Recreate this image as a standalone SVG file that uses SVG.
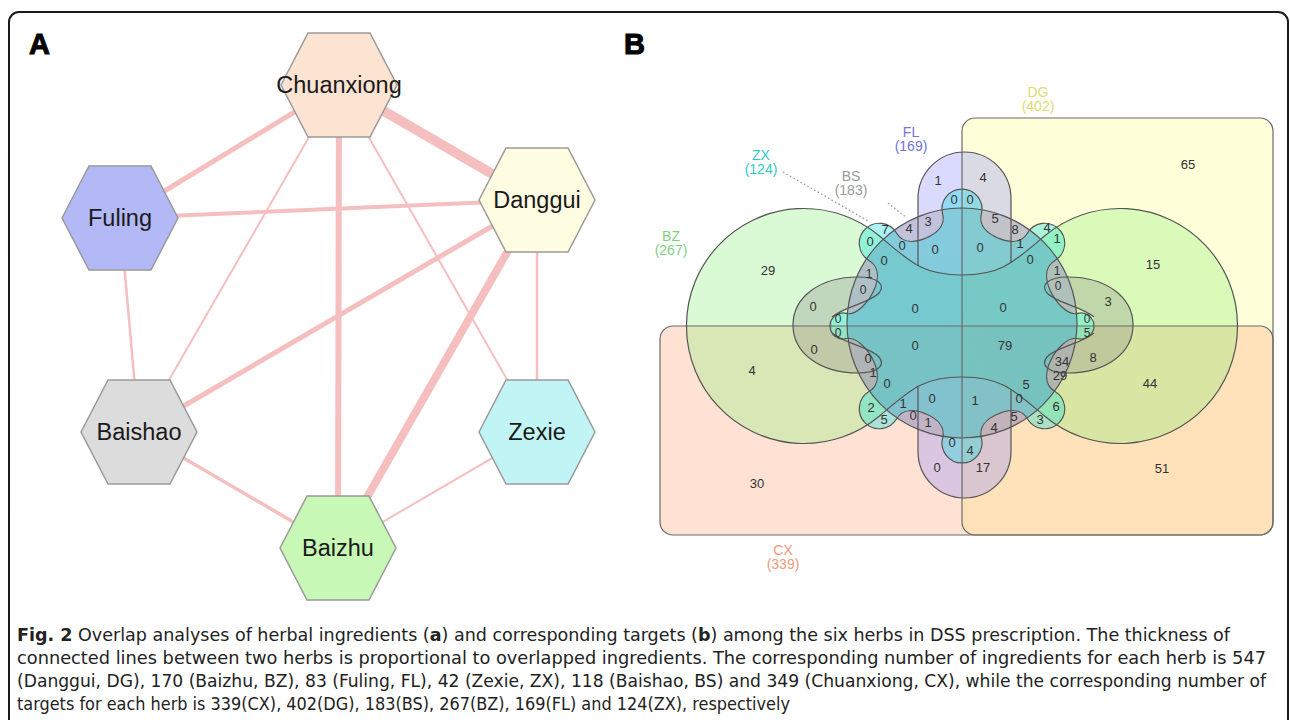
<svg xmlns="http://www.w3.org/2000/svg" xmlns:xlink="http://www.w3.org/1999/xlink" width="1290" height="720" viewBox="0 0 1290 720">
<defs>
<style>
.hex{stroke:#9a9a9a;stroke-width:1.5}
.hl{font-family:"Liberation Sans",Arial,sans-serif;font-size:23.5px;fill:#1a1a1a;text-anchor:middle;dominant-baseline:central}
.e{stroke:#f5bfbf;fill:none;stroke-linecap:butt}
.ol{fill:none;stroke:#555;stroke-width:1.2}
.n{font-family:"Liberation Sans",Arial,sans-serif;font-size:13px;fill:#333;text-anchor:middle;dominant-baseline:central}
.ns{font-family:"Liberation Sans",Arial,sans-serif;font-size:12px;fill:#333;text-anchor:middle;dominant-baseline:central}
.sl{font-family:"Liberation Sans",Arial,sans-serif;font-size:14px;text-anchor:middle}
.cap{font-family:"Liberation Sans Narrow","DejaVu Sans Condensed","Liberation Sans",sans-serif;font-size:18px;fill:#222}
.lead{stroke:#9a9a9a;stroke-width:1.3;stroke-dasharray:1.5 2.5;fill:none}
.big{font-family:"Liberation Sans",Arial,sans-serif;font-size:29px;font-weight:bold;fill:#000;stroke:#000;stroke-width:1}
</style>
<path id="pA" d="M -36.4,-87.8 C -25.3,-92.4 -16.4,-100.5 -19.4,-112.1 A 20 20 0 1 1 19.4,-112.1 C 16.4,-100.5 25.3,-92.4 36.4,-87.8"/>
<path id="pAf" d="M 0,0 L -36.4,-87.8 C -25.3,-92.4 -16.4,-100.5 -19.4,-112.1 A 20 20 0 1 1 19.4,-112.1 C 16.4,-100.5 25.3,-92.4 36.4,-87.8 Z"/>
<path id="pB" d="M -36.4,-87.8 C -23.5,-93.2 -10.1,-106.1 -12.6,-115.8 A 13 13 0 1 1 12.6,-115.8 C 10.1,-106.1 23.5,-93.2 36.4,-87.8"/>
<path id="pBf" d="M 0,0 L -36.4,-87.8 C -23.5,-93.2 -10.1,-106.1 -12.6,-115.8 A 13 13 0 1 1 12.6,-115.8 C 10.1,-106.1 23.5,-93.2 36.4,-87.8 Z"/>
<path id="bulbF" d="M 832,317 C 845,306 870,303 879,293 C 886,285 878,277 858,277 C 820,277 793,297 793,325 C 793,353 820,373 858,373 C 878,373 886,365 879,357 C 870,347 845,344 832,333 Z"/>
<path id="bulbO" d="M 832,317 C 845,306 870,303 879,293 C 886,285 878,277 858,277 C 820,277 793,297 793,325 C 793,353 820,373 858,373 C 878,373 886,365 879,357 C 870,347 845,344 832,333"/>
<path id="bz" d="M 879.5,236 C 910.1,261.7 922,275 962,275 C 1002,275 1013.9,261.7 1044.5,236 A 117.5 117.5 0 1 1 1044.5,416 C 1013.9,390.3 1002,377 962,377 C 922,377 910.1,390.3 879.5,416 A 117.5 117.5 0 1 1 879.5,236 Z"/>
</defs>

<rect x="0" y="0" width="1290" height="720" fill="#ffffff"/>
<rect id="frame" x="9" y="12" width="1279" height="730" rx="10" fill="none" stroke="#1a1a1a" stroke-width="2"/>

<text class="big" x="29" y="54">A</text>
<text class="big" x="624" y="54">B</text>

<!-- Panel A connectors -->
<g id="connectors">
<line class="e" x1="339" y1="85" x2="120" y2="218" stroke-width="5"/>
<line class="e" x1="339" y1="85" x2="537" y2="200" stroke-width="10"/>
<line class="e" x1="339" y1="85" x2="338" y2="548" stroke-width="6"/>
<line class="e" x1="339" y1="85" x2="139" y2="432" stroke-width="2"/>
<line class="e" x1="339" y1="85" x2="537" y2="432" stroke-width="2"/>
<line class="e" x1="120" y1="218" x2="537" y2="200" stroke-width="4"/>
<line class="e" x1="120" y1="218" x2="139" y2="432" stroke-width="2.5"/>
<line class="e" x1="537" y1="200" x2="139" y2="432" stroke-width="5"/>
<line class="e" x1="537" y1="200" x2="338" y2="548" stroke-width="8"/>
<line class="e" x1="537" y1="200" x2="537" y2="432" stroke-width="2.5"/>
<line class="e" x1="139" y1="432" x2="338" y2="548" stroke-width="3.5"/>
<line class="e" x1="537" y1="432" x2="338" y2="548" stroke-width="2"/>
</g>

<g id="node-chuanxiong"><polygon class="hex" fill="#fde3d2" points="281,85 308,33 370,33 397,85 370,137 308,137"/><text class="hl" x="339" y="85">Chuanxiong</text></g>
<g id="node-danggui"><polygon class="hex" fill="#fefde2" points="479,200 506,148 568,148 595,200 568,252 506,252"/><text class="hl" x="537" y="200">Danggui</text></g>
<g id="node-fuling"><polygon class="hex" fill="#b3b8f6" points="62,218 89,166 151,166 178,218 151,270 89,270"/><text class="hl" x="120" y="218">Fuling</text></g>
<g id="node-baishao"><polygon class="hex" fill="#dcdcdc" points="81,432 108,380 170,380 197,432 170,484 108,484"/><text class="hl" x="139" y="432">Baishao</text></g>
<g id="node-zexie"><polygon class="hex" fill="#c1f5f5" points="479,432 506,380 568,380 595,432 568,484 506,484"/><text class="hl" x="537" y="432">Zexie</text></g>
<g id="node-baizhu"><polygon class="hex" fill="#c7f8b5" points="280,548 307,496 369,496 396,548 369,600 307,600"/><text class="hl" x="338" y="548">Baizhu</text></g>

<!-- Panel B Venn -->
<g id="venn-fills">
<g id="set-dg-fill" opacity="0.3" fill="#ffff80"><rect x="962" y="118" width="311" height="417" rx="13"/></g>
<g id="set-cx-fill" opacity="0.3" fill="#ffa070"><rect x="660" y="326" width="613" height="209" rx="13"/></g>
<g id="set-bz-fill" opacity="0.3" fill="#80ee70"><use xlink:href="#bz"/></g>
<g id="set-fl-fill" opacity="0.3" fill="#8888ff">
<path d="M 918,198.5 A 46.5 46.5 0 0 1 1011,198.5 L 1011,451.5 A 46.5 46.5 0 0 1 918,451.5 Z"/>
<circle cx="962" cy="323" r="115"/>
</g>
<g id="set-bs-fill" opacity="0.3" fill="#8a8a8a">
<circle cx="962" cy="323" r="115"/>
<use xlink:href="#bulbF"/>
<use xlink:href="#bulbF" transform="translate(1926,0) scale(-1,1)"/>
</g>
<g id="set-zx-fill" opacity="0.32" fill="#00e0e0">
<use xlink:href="#pAf" transform="translate(962,326) rotate(0)"/>
<use xlink:href="#pAf" transform="translate(962,326) rotate(45)"/>
<use xlink:href="#pBf" transform="translate(962,326) rotate(90)"/>
<use xlink:href="#pAf" transform="translate(962,326) rotate(135)"/>
<use xlink:href="#pAf" transform="translate(962,326) rotate(180)"/>
<use xlink:href="#pAf" transform="translate(962,326) rotate(225)"/>
<use xlink:href="#pBf" transform="translate(962,326) rotate(270)"/>
<use xlink:href="#pAf" transform="translate(962,326) rotate(315)"/>
</g>
</g>

<g id="venn-outlines">
<rect x="962" y="118" width="311" height="417" rx="13" fill="none" stroke="#6a6a6a" stroke-width="1.2"/>
<rect x="660" y="326" width="613" height="209" rx="13" fill="none" stroke="#6a6a6a" stroke-width="1.2"/>
<use xlink:href="#bz" class="ol"/>
<circle class="ol" cx="962" cy="323" r="115"/>
<path class="ol" d="M 918,265.5 L 918,198.5 A 46.5 46.5 0 0 1 1011,198.5 L 1011,263"/>
<path class="ol" d="M 918,386.5 L 918,451.5 A 46.5 46.5 0 0 0 1011,451.5 L 1011,389"/>
<use xlink:href="#bulbO" class="ol"/>
<use xlink:href="#bulbO" class="ol" transform="translate(1926,0) scale(-1,1)"/>
<g class="ol">
<use xlink:href="#pA" transform="translate(962,326) rotate(0)"/>
<use xlink:href="#pA" transform="translate(962,326) rotate(45)"/>
<use xlink:href="#pB" transform="translate(962,326) rotate(90)"/>
<use xlink:href="#pA" transform="translate(962,326) rotate(135)"/>
<use xlink:href="#pA" transform="translate(962,326) rotate(180)"/>
<use xlink:href="#pA" transform="translate(962,326) rotate(225)"/>
<use xlink:href="#pB" transform="translate(962,326) rotate(270)"/>
<use xlink:href="#pA" transform="translate(962,326) rotate(315)"/>
</g>
<path class="lead" d="M 783,172 L 870,222"/>
<path class="lead" d="M 888,203 L 907,218"/>
</g>

<g id="venn-numbers">
<text class="n" x="1188" y="164">65</text>
<text class="n" x="1153" y="264">15</text>
<text class="n" x="1150" y="383">44</text>
<text class="n" x="1162" y="468">51</text>
<text class="n" x="768" y="270">29</text>
<text class="n" x="752" y="370">4</text>
<text class="n" x="757" y="483">30</text>
<text class="n" x="938" y="180">1</text>
<text class="n" x="983" y="177">4</text>
<text class="n" x="954" y="199">0</text>
<text class="n" x="970" y="199">0</text>
<text class="n" x="885" y="229">7</text>
<text class="n" x="870" y="241">0</text>
<text class="n" x="909" y="228">4</text>
<text class="n" x="928" y="221">3</text>
<text class="n" x="995" y="218">5</text>
<text class="n" x="1015" y="229">8</text>
<text class="n" x="1047" y="227">4</text>
<text class="n" x="1057" y="238">1</text>
<text class="n" x="902" y="245">0</text>
<text class="n" x="935" y="249">0</text>
<text class="n" x="980" y="247">0</text>
<text class="n" x="1020" y="243">1</text>
<text class="n" x="1030" y="259">0</text>
<text class="n" x="884" y="260">0</text>
<text class="ns" x="869" y="274">1</text>
<text class="ns" x="863" y="290">0</text>
<text class="ns" x="1057" y="271">1</text>
<text class="ns" x="1058" y="286">0</text>
<text class="n" x="813" y="306">0</text>
<text class="n" x="915" y="308">0</text>
<text class="n" x="1003" y="307">0</text>
<text class="n" x="1108" y="301">3</text>
<text class="ns" x="838" y="319">0</text>
<text class="ns" x="838" y="333">0</text>
<text class="ns" x="1087" y="319">0</text>
<text class="ns" x="1087" y="333">5</text>
<text class="n" x="814" y="349">0</text>
<text class="n" x="915" y="345">0</text>
<text class="n" x="1005" y="345">79</text>
<text class="n" x="1093" y="357">8</text>
<text class="n" x="1062" y="361">34</text>
<text class="n" x="1060" y="375">29</text>
<text class="n" x="868" y="358">0</text>
<text class="n" x="873" y="372">1</text>
<text class="n" x="887" y="383">0</text>
<text class="n" x="1026" y="384">5</text>
<text class="n" x="871" y="407">2</text>
<text class="n" x="884" y="419">5</text>
<text class="n" x="903" y="403">1</text>
<text class="n" x="913" y="415">0</text>
<text class="n" x="928" y="422">1</text>
<text class="n" x="932" y="398">0</text>
<text class="n" x="975" y="400">1</text>
<text class="n" x="1019" y="398">0</text>
<text class="n" x="1056" y="406">6</text>
<text class="n" x="1014" y="416">5</text>
<text class="n" x="1040" y="419">3</text>
<text class="n" x="994" y="427">4</text>
<text class="n" x="952" y="442">0</text>
<text class="n" x="970" y="450">4</text>
<text class="n" x="937" y="467">0</text>
<text class="n" x="983" y="467">17</text>
</g>

<g id="venn-labels">
<g id="label-dg" fill="#dcdc70"><text class="sl" x="1038" y="97">DG</text><text class="sl" x="1038" y="111">(402)</text></g>
<g id="label-fl" fill="#7373d9"><text class="sl" x="911" y="137">FL</text><text class="sl" x="911" y="151">(169)</text></g>
<g id="label-zx" fill="#33c9c9"><text class="sl" x="761" y="160">ZX</text><text class="sl" x="761" y="174">(124)</text></g>
<g id="label-bs" fill="#9a9a9a"><text class="sl" x="851" y="181">BS</text><text class="sl" x="851" y="195">(183)</text></g>
<g id="label-bz" fill="#80d080"><text class="sl" x="671" y="241">BZ</text><text class="sl" x="671" y="255">(267)</text></g>
<g id="label-cx" fill="#eb9b78"><text class="sl" x="783" y="555">CX</text><text class="sl" x="783" y="569">(339)</text></g>
</g>

<g id="caption">
<text class="cap" x="17" y="641" textLength="1213" lengthAdjust="spacingAndGlyphs"><tspan font-weight="bold">Fig. 2</tspan> Overlap analyses of herbal ingredients (<tspan font-weight="bold">a</tspan>) and corresponding targets (<tspan font-weight="bold">b</tspan>) among the six herbs in DSS prescription. The thickness of</text>
<text class="cap" x="17" y="664" textLength="1249" lengthAdjust="spacingAndGlyphs">connected lines between two herbs is proportional to overlapped ingredients. The corresponding number of ingredients for each herb is 547</text>
<text class="cap" x="17" y="687" textLength="1249" lengthAdjust="spacingAndGlyphs">(Danggui, DG), 170 (Baizhu, BZ), 83 (Fuling, FL), 42 (Zexie, ZX), 118 (Baishao, BS) and 349 (Chuanxiong, CX), while the corresponding number of</text>
<text class="cap" x="17" y="710" textLength="773" lengthAdjust="spacingAndGlyphs">targets for each herb is 339(CX), 402(DG), 183(BS), 267(BZ), 169(FL) and 124(ZX), respectively</text>
</g>
</svg>
